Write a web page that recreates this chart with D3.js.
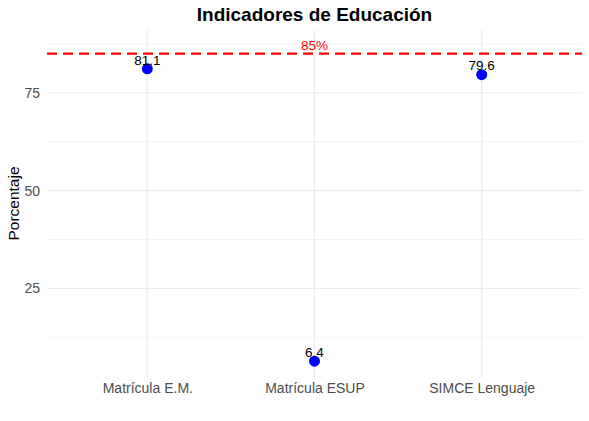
<!DOCTYPE html>
<html>
<head>
<meta charset="utf-8">
<script src="https://cdn.jsdelivr.net/npm/d3@7"></script>
<style>
  body { margin: 0; background: #fff; }
  text { font-family: "Liberation Sans", Arial, sans-serif; }
</style>
</head>
<body>
<div id="chart"></div>
<script>
// indicadores y sus valores (%)
const categories = ["Matrícula E.M.", "Matrícula ESUP", "SIMCE Lenguaje"];
const values = [81.1, 6.4, 79.6];
const yTicks = [25, 50, 75];
const meta = 85;
const metaLabelY = 87;

let width = 589,
    height = 421,
    margin = ({ top: 30, right: 7, bottom: 44, left: 47 });

const svg = d3.select("#chart")
    .append("svg")
    .attr("width", width)
    .attr("height", height);

let lo = d3.min(values), hi = metaLabelY;
let pad = (hi - lo) * 0.05;

let x = d3.scalePoint()
    .domain(categories)
    .range([margin.left, width - margin.right])
    .padding(0.6);

let y = d3.scaleLinear()
    .domain([lo - pad, hi + pad])
    .range([height - margin.bottom, margin.top]);

// minor gridlines
let minor = [12.5, 37.5, 62.5, 87.5];
svg.append("g")
    .selectAll("line")
    .data(minor)
    .join("line")
    .attr("x1", margin.left)
    .attr("x2", width - margin.right)
    .attr("y1", d => y(d))
    .attr("y2", d => y(d))
    .attr("stroke", "#ebebeb")
    .attr("stroke-width", 0.6);

// major gridlines y
svg.append("g")
    .selectAll("line")
    .data(yTicks)
    .join("line")
    .attr("x1", margin.left)
    .attr("x2", width - margin.right)
    .attr("y1", d => y(d))
    .attr("y2", d => y(d))
    .attr("stroke", "#ebebeb")
    .attr("stroke-width", 1.1);

// major gridlines x
svg.append("g")
    .selectAll("line")
    .data(categories)
    .join("line")
    .attr("x1", d => x(d))
    .attr("x2", d => x(d))
    .attr("y1", margin.top)
    .attr("y2", height - margin.bottom)
    .attr("stroke", "#ebebeb")
    .attr("stroke-width", 1.1);

// axes
svg.append("g")
    .attr("transform", `translate(${margin.left},0)`)
    .call(d3.axisLeft(y).tickValues(yTicks).tickSize(0).tickPadding(7))
    .call(g => g.select(".domain").remove())
    .selectAll("text")
    .attr("fill", "#4d4d4d")
    .style("font-size", "14px");

svg.append("g")
    .attr("transform", `translate(0,${height - margin.bottom})`)
    .call(d3.axisBottom(x).tickSize(0).tickPadding(6))
    .call(g => g.select(".domain").remove())
    .selectAll("text")
    .attr("fill", "#4d4d4d")
    .style("font-size", "14px");

// meta line
svg.append("line")
    .attr("x1", margin.left)
    .attr("x2", width - margin.right)
    .attr("y1", y(meta))
    .attr("y2", y(meta))
    .attr("stroke", "red")
    .attr("stroke-width", 2.2)
    .attr("stroke-dasharray", "10,6");

svg.append("text")
    .attr("x", x(categories[1]))
    .attr("y", y(metaLabelY))
    .attr("dy", "0.35em")
    .attr("text-anchor", "middle")
    .attr("fill", "red")
    .style("font-size", "13.5px")
    .text(meta + "%");

// points
svg.append("g")
    .attr("fill", "blue")
    .selectAll("circle")
    .data(values)
    .join("circle")
    .attr("cx", (d, i) => x(categories[i]))
    .attr("cy", d => y(d))
    .attr("r", 5.5);

svg.append("g")
    .selectAll("text")
    .data(values)
    .join("text")
    .attr("x", (d, i) => x(categories[i]))
    .attr("y", d => y(d) - 9)
    .attr("dy", "0.35em")
    .attr("text-anchor", "middle")
    .style("font-size", "13.5px")
    .text(d => d.toFixed(1));

// labels
svg.append("text")
    .attr("x", (margin.left + width - margin.right) / 2)
    .attr("y", 21)
    .attr("text-anchor", "middle")
    .style("font-size", "19px")
    .style("font-weight", "bold")
    .text("Indicadores de Educación");

svg.append("text")
    .attr("transform", `translate(19,${(margin.top + height - margin.bottom) / 2}) rotate(-90)`)
    .attr("text-anchor", "middle")
    .style("font-size", "15.5px")
    .text("Porcentaje");
</script>
</body>
</html>
